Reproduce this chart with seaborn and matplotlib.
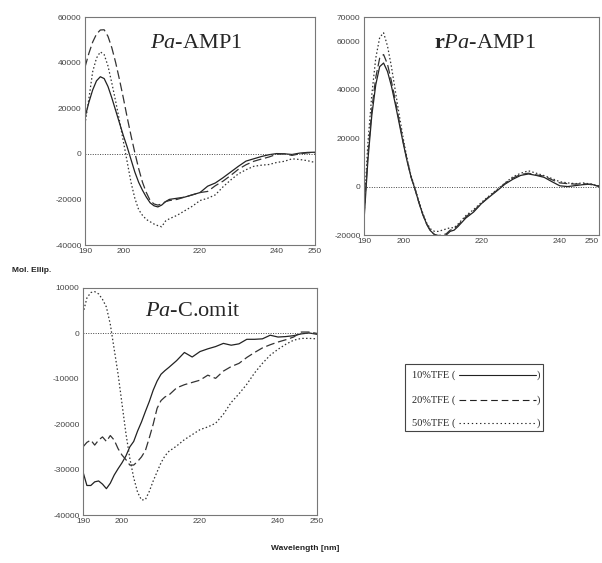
import numpy as np
import pandas as pd
import matplotlib
matplotlib.use("Agg")
import matplotlib.pyplot as plt
import matplotlib.ticker as mticker
from matplotlib.lines import Line2D
from matplotlib.patches import Rectangle
import seaborn as sns

# ---- data ----
wl_a = list(range(190, 213)) + list(range(214, 251, 2))

amp1_10 = [16000, 22500, 28000, 32000, 33800, 33000, 29500, 24500, 19000, 13500,
           8000, 3000, -2500, -8000, -12500, -16000, -19000, -21500, -22800, -23300,
           -22500, -21000, -20000,
           -19500, -19000, -18000, -17000, -14200, -12800, -10500, -8000, -5500, -3200,
           -2200, -1200, -400, 100, 0, -300, 300, 600, 700]
amp1_20 = [38000, 44000, 49000, 52500, 54300, 54400, 51500, 46500, 40000, 32500,
           24500, 16000, 8000, 500, -6500, -12500, -17000, -20500, -22000, -22500,
           -22000, -21000, -20500,
           -20000, -19000, -18000, -17000, -16500, -14000, -12000, -9500, -6800, -4800,
           -3300, -2300, -1400, -200, 0, -700, 0, 400, 500]
amp1_50 = [13000, 24000, 36000, 42000, 44700, 43500, 38500, 31000, 23000, 14500,
           5500, -3500, -12500, -19500, -24500, -27000, -28800, -29800, -30800, -31500,
           -32000, -29500, -28500,
           -27000, -25000, -23000, -20500, -19500, -18000, -14500, -11500, -8800, -7000,
           -5500, -5000, -4700, -3800, -3300, -2200, -2500, -3000, -3800]

wl_b = list(range(190, 215)) + list(range(216, 251, 2))

ramp1_10 = [-14000, 11000, 29500, 42000, 49500, 51000, 47500, 41500, 34000, 26000,
            18000, 10500, 4000, -1000, -6500, -11500, -15500, -18300, -19800, -20500,
            -20500, -20000, -18500, -18000, -16500,
            -13000, -10500, -7000, -4300, -1700, 1000, 3000, 4600, 5200, 4600, 3800,
            2000, 300, 0, 400, 800, 1000, 0]
ramp1_20 = [-12000, 13000, 32000, 45000, 53000, 54500, 50500, 43500, 35500, 27000,
            18500, 11000, 4000, -1000, -6500, -11500, -15500, -18500, -19800, -20200,
            -20000, -19500, -18000, -17500, -16000,
            -12500, -10000, -7000, -4000, -1500, 1300, 3500, 5000, 5500, 4800, 4300,
            2800, 1500, 1200, 1000, 1200, 800, 200]
ramp1_50 = [-10000, 18000, 38000, 53000, 61500, 63500, 58000, 49500, 39500, 29500,
            20000, 11500, 4500, -500, -6000, -11000, -15000, -17500, -18500, -18500,
            -18000, -17500, -17000, -17000, -15500,
            -12000, -9500, -6500, -3800, -1200, 1500, 4000, 5500, 6500, 5500, 4500,
            3300, 2000, 1500, 1200, 1500, 1000, 300]

wl_c = list(range(190, 213)) + list(range(214, 251, 2))

comit_10 = [-30500, -33500, -33500, -32700, -32500, -33200, -34200, -33000, -31200, -29800,
            -28500, -27000, -25000, -23800, -21500, -19500, -17200, -15000, -12500, -10500,
            -9000, -8200, -7500,
            -6000, -4200, -5200, -4000, -3400, -2900, -2200, -2600, -2300, -1300,
            -1300, -1200, -400, -800, -700, -500, -100, 100, -200]
comit_20 = [-25000, -24000, -23500, -24600, -23500, -22800, -23800, -22500, -23500, -25400,
            -26800, -27800, -29000, -29000, -28200, -27200, -25800, -23000, -20000, -16500,
            -14800, -14000, -13600,
            -12000, -11300, -10800, -10300, -9200, -9900, -8300, -7300, -6600, -5300,
            -4200, -3200, -2500, -1900, -1400, -800, 300, 300, 0]
comit_50 = [4400, 7800, 9000, 9200, 8700, 7500, 5800, 2000, -3500, -9000,
            -15500, -22000, -27500, -31800, -35000, -36700, -36600, -34800, -32500, -30500,
            -28500, -27000, -26000,
            -24800, -23400, -22300, -21200, -20600, -19800, -17800, -15200, -13300, -11200,
            -8700, -6600, -4800, -3500, -2400, -1500, -1100, -1100, -1200]

legend_labels = ["10%TFE (", "20%TFE (", "50%TFE ("]

# ---- style ----
sns.set_style("white")
plt.rcParams["font.family"] = ["Liberation Sans", "DejaVu Sans"]
plt.rcParams["mathtext.fontset"] = "custom"
plt.rcParams["mathtext.rm"] = "Liberation Serif"
plt.rcParams["mathtext.it"] = "Liberation Serif:italic"
plt.rcParams["mathtext.bf"] = "Liberation Serif:bold"

LINE = "#222222"
STYLES = [
    dict(linestyle="-", color=LINE, linewidth=0.9),
    dict(linestyle=(0, (7, 3)), color="#333333", linewidth=0.9),
    dict(linestyle=(0, (1.2, 1.8)), color="#333333", linewidth=0.9),
]
LEG_STYLES = ["-", (0, (6, 3.5)), (0, (1.2, 2.5))]

fig = plt.figure(figsize=(6.02, 5.63), dpi=100)
W, H = 602, 563


def px_ax(l, t, r, b):
    return fig.add_axes([l / W, 1 - b / H, (r - l) / W, (b - t) / H])


def draw_panel(ax, wl, series, ylim, ymajor, yminor):
    for vals, st in zip(series, STYLES):
        sns.lineplot(x=np.array(wl), y=np.array(vals), ax=ax, **st)
    ax.axhline(0, color="#444444", linestyle=(0, (1, 1.5)), linewidth=0.7)
    ax.set_xlim(190, 250)
    ax.set_ylim(*ylim)
    ax.set_xticks([190, 200, 220, 240, 250])
    ax.set_xticks([210, 230], minor=True)
    ax.set_yticks(ymajor)
    ax.set_yticks(yminor, minor=True)
    ax.yaxis.set_major_formatter(mticker.FuncFormatter(lambda v, _: f"{int(v)}"))
    ax.tick_params(which="both", direction="in", length=3, width=0.6, color="#666666",
                   labelsize=6, labelcolor="#444444", pad=2.5)
    ax.set_xlabel("")
    ax.set_ylabel("")
    for s in ax.spines.values():
        s.set_color("#777777")
        s.set_linewidth(0.8)


ax1 = px_ax(85, 17, 315, 245)
draw_panel(ax1, wl_a, [amp1_10, amp1_20, amp1_50], (-40000, 60000),
           [-40000, -20000, 0, 20000, 40000, 60000],
           [-30000, -10000, 10000, 30000, 50000])

ax2 = px_ax(364, 17, 599, 235)
draw_panel(ax2, wl_b, [ramp1_10, ramp1_20, ramp1_50], (-20000, 70000),
           [-20000, 0, 20000, 40000, 60000, 70000],
           [-10000, 10000, 30000, 50000])
# keep the last x label inside the figure edge
ax2.get_xticklabels()[-1].set_ha("right")

ax3 = px_ax(83, 288, 317, 515)
draw_panel(ax3, wl_c, [comit_10, comit_20, comit_50], (-40000, 10000),
           [-40000, -30000, -20000, -10000, 0, 10000],
           [-35000, -25000, -15000, -5000, 5000])

# panel names
serif = ["Liberation Serif", "DejaVu Serif"]
fig.text(196 / W, 1 - 43 / H, r"$\mathit{Pa}$-AMP1", family=serif, fontsize=16,
         ha="center", va="center")
fig.text(485 / W, 1 - 43 / H, r"$\mathbf{r}\mathit{Pa}$-AMP1", family=serif, fontsize=16,
         ha="center", va="center")
fig.text(193 / W, 1 - 312 / H, r"$\mathit{Pa}$-C.omit", family=serif, fontsize=16,
         ha="center", va="center")

# shared axis labels
fig.text(12 / W, 1 - 270 / H, "Mol. Ellip.", fontsize=6, fontweight="bold",
         ha="left", va="center", color="#222222")
fig.text(305 / W, 1 - 548 / H, "Wavelength [nm]", fontsize=6, fontweight="bold",
         ha="center", va="center", color="#222222")

# legend box
fig.patches.append(Rectangle((405 / W, 1 - 431 / H), 138 / W, 67 / H,
                             transform=fig.transFigure, fill=False,
                             edgecolor="#444444", linewidth=0.8))
rows = [375, 400, 423]
for lab, ls, ry in zip(legend_labels, LEG_STYLES, rows):
    yy = 1 - ry / H
    fig.text(412 / W, yy, lab, family=serif, fontsize=7.5, ha="left", va="center")
    fig.lines.append(Line2D([459 / W, 536 / W], [yy, yy], transform=fig.transFigure,
                            linestyle=ls, color="#222222", linewidth=0.8))
    fig.text(537 / W, yy, ")", family=serif, fontsize=7.5, ha="left", va="center")

fig.savefig("out.png", dpi=100)
